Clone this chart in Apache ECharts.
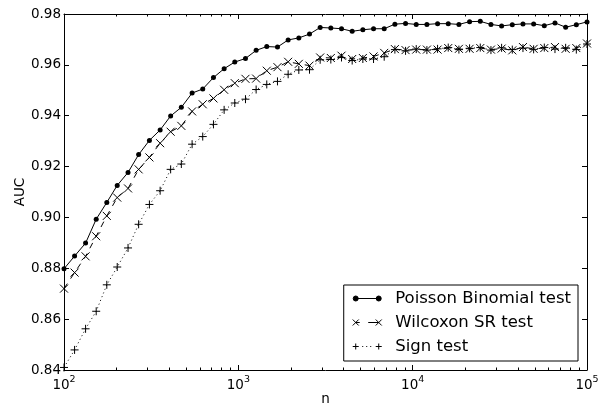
<!DOCTYPE html>
<html>
<head>
<meta charset="utf-8">
<script src="https://cdn.jsdelivr.net/npm/echarts@6/dist/echarts.min.js"></script>
<style>
html,body{margin:0;padding:0;background:#fff;}
#chart{width:599px;height:404px;}
</style>
</head>
<body>
<div id="chart"></div>
<script>
const nValues = [100, 115, 133, 153, 176, 202, 233, 268, 309, 356,
  409, 471, 543, 625, 720, 829, 954, 1099, 1265, 1456,
  1677, 1931, 2223, 2560, 2947, 3393, 3907, 4498, 5179, 5964,
  6866, 7906, 9103, 10481, 12068, 13895, 15999, 18421, 21210, 24421,
  28118, 32375, 37276, 42919, 49417, 56899, 65513, 75431, 86851, 100000];

const poissonAUC = [0.8798,0.8848,0.8899,0.8993,0.9059,0.9126,0.9177,0.9247,0.9303,0.9344,
  0.9399,0.9433,0.9489,0.9505,0.9550,0.9585,0.9611,0.9625,0.9657,0.9672,
  0.9670,0.9698,0.9706,0.9721,0.9747,0.9745,0.9742,0.9732,0.9738,0.9742,
  0.9742,0.9760,0.9763,0.9759,0.9759,0.9762,0.9762,0.9759,0.9770,0.9771,
  0.9759,0.9753,0.9758,0.9761,0.9761,0.9754,0.9765,0.9748,0.9758,0.9769];

const wilcoxonAUC = [0.8720,0.8783,0.8847,0.8926,0.9006,0.9078,0.9114,0.9189,0.9236,0.9292,
  0.9337,0.9360,0.9417,0.9445,0.9468,0.9502,0.9528,0.9545,0.9546,0.9577,
  0.9591,0.9612,0.9604,0.9597,0.9629,0.9627,0.9636,0.9623,0.9627,0.9633,
  0.9647,0.9662,0.9658,0.9660,0.9660,0.9660,0.9666,0.9663,0.9663,0.9666,
  0.9660,0.9664,0.9657,0.9670,0.9663,0.9666,0.9670,0.9663,0.9666,0.9684];

const signAUC = [0.8410,0.8479,0.8562,0.8631,0.8735,0.8805,0.8880,0.8973,0.9051,0.9105,
  0.9189,0.9210,0.9288,0.9318,0.9366,0.9423,0.9450,0.9465,0.9503,0.9523,
  0.9535,0.9563,0.9580,0.9581,0.9620,0.9621,0.9629,0.9617,0.9623,0.9623,
  0.9632,0.9660,0.9655,0.9662,0.9658,0.9663,0.9668,0.9660,0.9665,0.9668,
  0.9658,0.9667,0.9660,0.9666,0.9661,0.9668,0.9662,0.9667,0.9660,0.9682];

const seriesNames = ['Poisson Binomial test', 'Wilcoxon SR test', 'Sign test'];
const minorTickValues = [200,300,400,500,600,700,800,900,
  2000,3000,4000,5000,6000,7000,8000,9000,
  20000,30000,40000,50000,60000,70000,80000,90000];

const X_MIN = 100, X_MAX = 100000, Y_MIN = 0.84, Y_MAX = 0.98, Y_STEP = 0.02;
const FONT = 'DejaVu Sans';

const pair = arr => nValues.map((n, i) => [n, arr[i]]);

const chart = echarts.init(document.getElementById('chart'), null, {renderer: 'canvas'});

const axisLineStyle = {color: '#000', width: 1};

const option = {
  animation: false,
  backgroundColor: '#fff',
  grid: {left: 64, right: 12, top: 14, bottom: 34, containLabel: false, outerBoundsMode: 'none'},
  xAxis: [{
    type: 'log', logBase: 10, min: X_MIN, max: X_MAX,
    name: 'n', nameLocation: 'middle', nameGap: 22, nameMoveOverlap: false,
    nameTextStyle: {fontFamily: FONT, fontSize: 13.5, color: '#000'},
    axisLine: {show: true, lineStyle: axisLineStyle},
    axisTick: {show: true, inside: true, length: 5, lineStyle: axisLineStyle},
    splitLine: {show: false},
    axisLabel: {
      margin: 4, color: '#000', fontFamily: FONT,
      formatter: v => '{b|10}{s|' + Math.round(Math.log10(v)) + '}',
      rich: {
        b: {fontFamily: FONT, fontSize: 13.5, color: '#000', padding: [4, 0, 0, 0]},
        s: {fontFamily: FONT, fontSize: 9.5, color: '#000', padding: [0, 0, 6, 0]}
      }
    }
  }, {
    type: 'log', logBase: 10, min: X_MIN, max: X_MAX, position: 'top',
    axisLine: {show: true, lineStyle: axisLineStyle},
    axisTick: {show: true, inside: true, length: 5, lineStyle: axisLineStyle},
    axisLabel: {show: false}, splitLine: {show: false}
  }],
  yAxis: [{
    type: 'value', min: Y_MIN, max: Y_MAX, interval: Y_STEP,
    name: 'AUC', nameLocation: 'middle', nameGap: 37, nameMoveOverlap: false,
    nameTextStyle: {fontFamily: FONT, fontSize: 13.5, color: '#000'},
    axisLine: {show: true, lineStyle: axisLineStyle},
    axisTick: {show: true, inside: true, length: 5, lineStyle: axisLineStyle},
    splitLine: {show: false},
    axisLabel: {margin: 3, color: '#000', fontFamily: FONT, fontSize: 13.5,
      formatter: v => v.toFixed(2)}
  }, {
    type: 'value', min: Y_MIN, max: Y_MAX, interval: Y_STEP, position: 'right',
    axisLine: {show: true, lineStyle: axisLineStyle},
    axisTick: {show: true, inside: true, length: 5, lineStyle: axisLineStyle},
    axisLabel: {show: false}, splitLine: {show: false}
  }],
  legend: {
    orient: 'vertical', right: 21, bottom: 43,
    padding: [5, 7, 6, 8], itemGap: 7,
    itemWidth: 38, itemHeight: 8,
    borderColor: '#000', borderWidth: 1, borderRadius: 0, backgroundColor: '#fff',
    textStyle: {fontFamily: FONT, fontSize: 16.5, color: '#000'},
    itemStyle: {color: '#000', borderColor: '#000', borderWidth: 1},
    selectedMode: false,
    data: [
      {name: seriesNames[0], icon: 'path://M0,0M38,8M3.5,4L26.5,4M1,4a2.5,2.5 0 1,0 5,0a2.5,2.5 0 1,0 -5,0M24,4a2.5,2.5 0 1,0 5,0a2.5,2.5 0 1,0 -5,0'},
      {name: seriesNames[1], icon: 'path://M0,0M38,8M0.5,1L6.5,7M6.5,1L0.5,7M23.5,1L29.5,7M29.5,1L23.5,7M3.5,4L7.5,4M16,4L26.5,4'},
      {name: seriesNames[2], icon: 'path://M0,0M38,8M0.5,4L6.5,4M3.5,1L3.5,7M23.5,4L29.5,4M26.5,1L26.5,7M10,4L11,4M14,4L15,4M18,4L19,4'}
    ]
  },
  series: [
    {
      name: seriesNames[2], type: 'line', data: pair(signAUC),
      symbol: 'path://M0,4L8,4M4,0L4,8', symbolSize: 8,
      itemStyle: {color: '#000', borderColor: '#000', borderWidth: 1},
      lineStyle: {color: '#000', width: 1, type: [1, 3]},
      emphasis: {disabled: true}, z: 2
    },
    {
      name: seriesNames[1], type: 'line', data: pair(wilcoxonAUC),
      symbol: 'path://M0,0L8,8M8,0L0,8', symbolSize: 8,
      itemStyle: {color: '#000', borderColor: '#000', borderWidth: 1},
      lineStyle: {color: '#000', width: 1, type: [6, 6]},
      emphasis: {disabled: true}, z: 3
    },
    {
      name: seriesNames[0], type: 'line', data: pair(poissonAUC),
      symbol: 'circle', symbolSize: 5,
      itemStyle: {color: '#000', borderWidth: 0},
      lineStyle: {color: '#000', width: 1, type: 'solid'},
      emphasis: {disabled: true}, z: 4
    },
    {
      name: 'minorTicks', type: 'custom', silent: true, z: 5,
      data: minorTickValues.map(v => [v, Y_MIN]),
      encode: {x: 0, y: 1},
      renderItem: (params, api) => {
        const v = api.value(0);
        const b = api.coord([v, Y_MIN]);
        const t = api.coord([v, Y_MAX]);
        const x = Math.round(b[0]) + 0.5;
        return {
          type: 'group',
          children: [
            {type: 'line', shape: {x1: x, y1: b[1], x2: x, y2: b[1] - 2.5}, style: {stroke: '#000', lineWidth: 1}},
            {type: 'line', shape: {x1: x, y1: t[1], x2: x, y2: t[1] + 2.5}, style: {stroke: '#000', lineWidth: 1}}
          ]
        };
      }
    }
  ]
};
chart.setOption(option);
</script>
</body>
</html>
